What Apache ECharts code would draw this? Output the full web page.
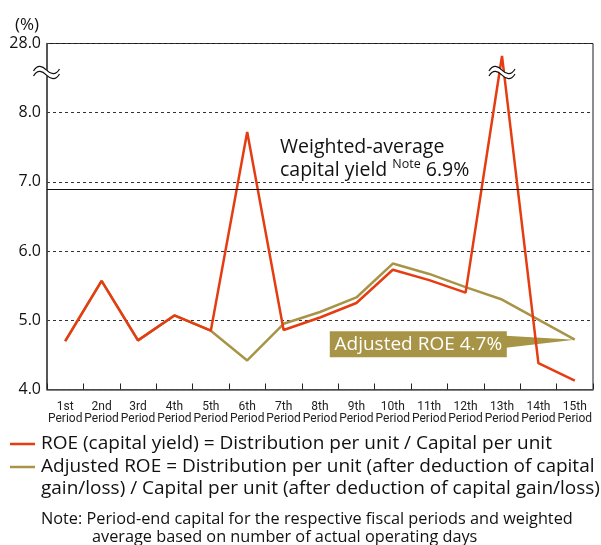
<!DOCTYPE html>
<html><head><meta charset="utf-8">
<script src="https://cdn.jsdelivr.net/npm/echarts@6/dist/echarts.min.js"></script>
<style>html,body{margin:0;padding:0;background:#fff}#c{width:601px;height:545px}</style>
</head><body><div id="c"></div>
<script>
// ---- data ----
const periods = ['1st','2nd','3rd','4th','5th','6th','7th','8th','9th','10th','11th','12th','13th','14th','15th'];
// ROE (capital yield) in %, as plotted (13th period is above the axis break)
const roe = [4.70, 5.57, 4.71, 5.07, 4.85, 7.72, 4.86, 5.04, 5.25, 5.73, 5.58, 5.40, 8.82, 4.38, 4.13];
// Adjusted ROE in %
const adjustedRoe = [4.70, 5.57, 4.71, 5.07, 4.85, 4.42, 4.95, 5.12, 5.33, 5.82, 5.67, 5.48, 5.30, 5.01, 4.72];
const weightedAverage = 6.9;
const yTicks = [4, 5, 6, 7, 8, 9];
const yTickLabels = ['4.0', '5.0', '6.0', '7.0', '8.0', '28.0']; // top tick is beyond the axis break
const breakValue = 8.58;
const legendTexts = [
  ['ROE (capital yield) = Distribution per unit / Capital per unit'],
  ['Adjusted ROE = Distribution per unit (after deduction of capital', 'gain/loss) / Capital per unit (after deduction of capital gain/loss)']
];
const noteTexts = ['Note: Period-end capital for the respective fiscal periods and weighted', 'average based on number of actual operating days'];

const RED = '#E63C12', OLIVE = '#A89446';
const FONT = "'Open Sans','Noto Sans',sans-serif";
const NARROW = "Roboto,sans-serif";

const chart = echarts.init(document.getElementById('c'), null, {renderer: 'canvas'});
const GRID = {left: 47, right: 8, top: 43.5, bottom: 155.5};
chart.setOption({
  animation: false,
  backgroundColor: '#fff',
  grid: Object.assign({show: true, borderColor: '#1a1a1a', borderWidth: 1, backgroundColor: 'transparent'}, GRID),
  xAxis: {
    type: 'category', data: periods, boundaryGap: true,
    axisLine: {lineStyle: {color: '#555', width: 1.5}},
    axisTick: {show: true, inside: true, length: 6, lineStyle: {color: '#222'}},
    axisLabel: {interval: 0, formatter: v => v + '\nPeriod', fontSize: 12, lineHeight: 12, color: '#222', margin: 11, fontFamily: NARROW},
    splitLine: {show: false}
  },
  yAxis: {
    type: 'value', min: 4, max: 9, interval: 1,
    axisLine: {show: true, lineStyle: {color: '#444', width: 1.5}},
    axisTick: {show: false},
    axisLabel: {formatter: v => yTickLabels[yTicks.indexOf(v)], fontSize: 16, color: '#111', margin: 6, fontFamily: FONT},
    splitLine: {show: true, lineStyle: {type: [3, 3], color: '#333', width: 1}}
  },
  series: [
    {name: 'Adjusted ROE', type: 'line', data: adjustedRoe, symbol: 'none', lineStyle: {color: OLIVE, width: 2.5}, z: 3},
    {name: 'ROE', type: 'line', data: roe, symbol: 'none', lineStyle: {color: RED, width: 2.5}, z: 4,
     markLine: {silent: true, symbol: 'none', label: {show: false}, lineStyle: {color: '#111', type: 'solid', width: 1},
       data: [{yAxis: weightedAverage}]}}
  ]
});

// ---- annotations positioned from the chart's scales ----
const yBreak = chart.convertToPixel({yAxisIndex: 0}, breakValue);
const x13 = chart.convertToPixel({xAxisIndex: 0}, 12);
const tip = chart.convertToPixel({gridIndex: 0}, [14, adjustedRoe[14]]);

// wave "~" made of two cubic segments, relative to centre
const waveSegs = [[[-13, 1], [-9, -6], [-4, -4], [0, 0]], [[0, 0], [4, 4], [9, 6], [13, -1]]];
function bez(p, t) {
  const u = 1 - t;
  return [u*u*u*p[0][0] + 3*u*u*t*p[1][0] + 3*u*t*t*p[2][0] + t*t*t*p[3][0],
          u*u*u*p[0][1] + 3*u*u*t*p[1][1] + 3*u*t*t*p[2][1] + t*t*t*p[3][1]];
}
function breakMark(cx, cy) {
  const gap = 5;
  const upper = [];
  waveSegs.forEach(s => { for (let i = 0; i <= 12; i++) upper.push(bez(s, i / 12)); });
  const lower = upper.map(p => [p[0], p[1] + gap]).reverse();
  const children = [{type: 'polygon', shape: {points: upper.concat(lower)}, style: {fill: '#fff'}, z: 100}];
  [0, gap].forEach(dy => waveSegs.forEach(s => children.push({
    type: 'bezierCurve', z: 101,
    shape: {x1: s[0][0], y1: s[0][1] + dy, cpx1: s[1][0], cpy1: s[1][1] + dy, cpx2: s[2][0], cpy2: s[2][1] + dy, x2: s[3][0], y2: s[3][1] + dy},
    style: {stroke: '#111', lineWidth: 1.2, fill: null}
  })));
  return {type: 'group', x: cx, y: cy, z: 100, children};
}

const boxRight = tip[0] - 68, boxW = 177, boxH = 26, boxCy = tip[1] + 4.5;
const graphics = [
  {type: 'text', x: 15, y: 25, style: {text: '(%)', font: '17px ' + FONT, fill: '#111', verticalAlign: 'middle'}},
  breakMark(GRID.left - 0.5, yBreak - 2.5),
  breakMark(x13, yBreak - 2.5),
  {type: 'text', x: 280, y: 147, z: 50, style: {text: 'Weighted-average', font: '19.5px ' + FONT, fill: '#111', verticalAlign: 'middle'}},
  {type: 'text', x: 280, y: 170, z: 50, style: {
    text: '{a|capital yield }{s|Note}{a| ' + weightedAverage.toFixed(1) + '%}',
    verticalAlign: 'middle', fill: '#111',
    rich: {a: {fontSize: 19.5, fontFamily: FONT, lineHeight: 24, fill: '#111'},
           s: {fontSize: 12.5, fontFamily: FONT, lineHeight: 14, verticalAlign: 'top', fill: '#111'}}}},
  {type: 'polygon', z: 1, shape: {points: [[boxRight - 1, tip[1] - 4], [tip[0], tip[1]], [boxRight - 1, tip[1] + 8]]}, style: {fill: OLIVE}},
  {type: 'rect', z: 1, shape: {x: boxRight - boxW, y: boxCy - boxH / 2, width: boxW, height: boxH}, style: {fill: OLIVE}},
  {type: 'text', z: 2, x: boxRight - boxW / 2, y: boxCy, style: {text: 'Adjusted ROE ' + adjustedRoe[14].toFixed(1) + '%', font: '19px ' + FONT, fill: '#fff', align: 'center', verticalAlign: 'middle'}},
  // legend
  {type: 'line', shape: {x1: 10, y1: 444, x2: 35, y2: 444}, style: {stroke: RED, lineWidth: 2.5}},
  {type: 'text', x: 41, y: 444, style: {text: legendTexts[0][0], font: '19px ' + FONT, fill: '#111', verticalAlign: 'middle'}},
  {type: 'line', shape: {x1: 10, y1: 467, x2: 35, y2: 467}, style: {stroke: OLIVE, lineWidth: 2.5}},
  {type: 'text', x: 41, y: 466.5, style: {text: legendTexts[1][0], font: '19px ' + FONT, fill: '#111', verticalAlign: 'middle'}},
  {type: 'text', x: 41, y: 489, style: {text: legendTexts[1][1], font: '19px ' + FONT, fill: '#111', verticalAlign: 'middle'}},
  {type: 'text', x: 41, y: 519, style: {text: noteTexts[0], font: '16.3px ' + FONT, fill: '#111', verticalAlign: 'middle'}},
  {type: 'text', x: 92, y: 537.5, style: {text: noteTexts[1], font: '16.3px ' + FONT, fill: '#111', verticalAlign: 'middle'}}
];
chart.setOption({graphic: graphics});
</script></body></html>
